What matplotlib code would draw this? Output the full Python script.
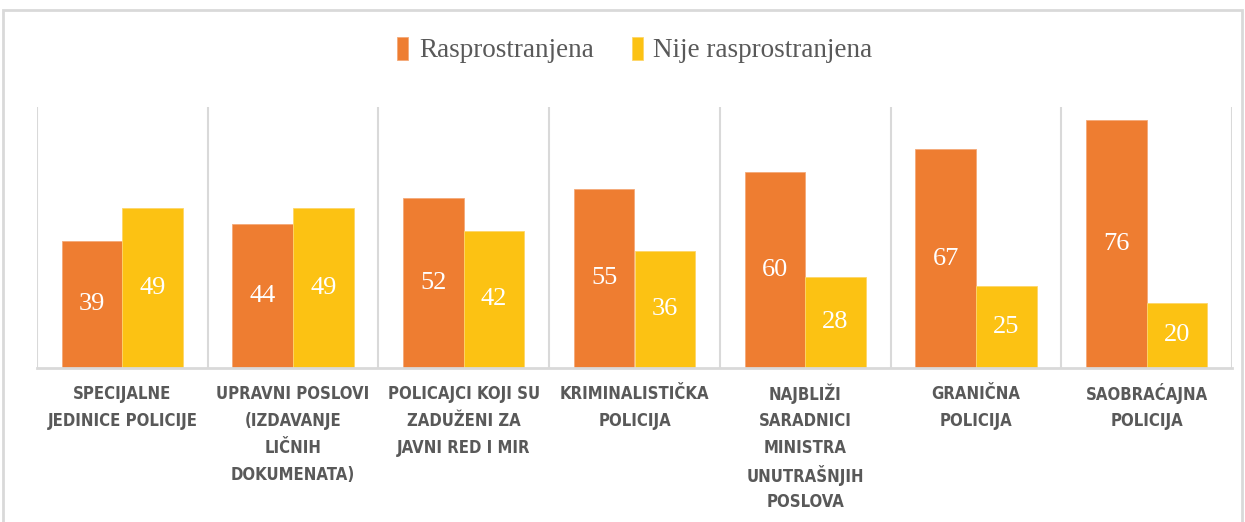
import numpy as np
import matplotlib.pyplot as plt
from matplotlib.patches import Rectangle
from matplotlib.transforms import blended_transform_factory

kategorije = ["SPECIJALNE\nJEDINICE POLICIJE",
              "UPRAVNI POSLOVI\n(IZDAVANJE\nLIČNIH\nDOKUMENATA)",
              "POLICAJCI KOJI SU\nZADUŽENI ZA\nJAVNI RED I MIR",
              "KRIMINALISTIČKA\nPOLICIJA",
              "NAJBLIŽI\nSARADNICI\nMINISTRA\nUNUTRAŠNJIH\nPOSLOVA",
              "GRANIČNA\nPOLICIJA",
              "SAOBRAĆAJNA\nPOLICIJA"]
rasprostranjena = [39, 44, 52, 55, 60, 67, 76]
nije_rasprostranjena = [49, 49, 42, 36, 28, 25, 20]

narandzasta = "#EE7D31"
zuta = "#FCC213"
siva = "#D9D9D9"

fig = plt.figure(figsize=(12.45, 5.22), dpi=100)
ax = fig.add_axes([37 / 1245, 1 - 368 / 522, (1232 - 37) / 1245, (368 - 107) / 522])

# okvir oko cele slike
fig.patches.append(Rectangle((3 / 1245, -0.01), 1239 / 1245, 1 - 10 / 522 + 0.01,
                             transform=fig.transFigure, fill=False,
                             edgecolor=siva, linewidth=2))

x = np.arange(len(kategorije))
sirina = 0.355
b1 = ax.bar(x - sirina / 2, rasprostranjena, sirina, color=narandzasta,
            label="Rasprostranjena", edgecolor="#F4A978", linewidth=0.6)
b2 = ax.bar(x + sirina / 2, nije_rasprostranjena, sirina, color=zuta,
            label="Nije rasprostranjena", edgecolor="#FDD66A", linewidth=0.6)

for bars in (b1, b2):
    for b in bars:
        ax.text(b.get_x() + b.get_width() / 2, b.get_height() / 2, f"{b.get_height():.0f}",
                ha="center", va="center", color="white", fontsize=19,
                family="Liberation Serif")

# vertikalne linije izmedju kategorija
ax.vlines(np.arange(len(kategorije) + 1) - 0.5, 0, 80, color=siva, linewidth=1.5, zorder=0)

ax.set_xlim(-0.5, len(kategorije) - 0.5)
ax.set_ylim(0, 80)
ax.set_yticks([])
ax.set_xticks([])
for s in ["top", "right", "left"]:
    ax.spines[s].set_visible(False)
ax.spines["bottom"].set_color(siva)
ax.spines["bottom"].set_linewidth(2)

# nazivi kategorija, red po red da razmak bude isti
tr = blended_transform_factory(ax.transData, fig.transFigure)
for i, naziv in enumerate(kategorije):
    for j, red in enumerate(naziv.split("\n")):
        ax.text(i, 1 - (394 + 27 * j) / 522, red, transform=tr, ha="center", va="center",
                family="DejaVu Sans", stretch="condensed", fontweight="bold",
                fontsize=12, color="#595959")

fig.legend(loc="center", bbox_to_anchor=(0.51, 1 - 50 / 522), ncol=2, frameon=False,
           prop={"family": "Liberation Serif", "size": 19.5}, labelcolor="#595959",
           handlelength=0.4, handleheight=0.95, handletextpad=0.4, columnspacing=1.4)

fig.savefig("out.png", dpi=100)
